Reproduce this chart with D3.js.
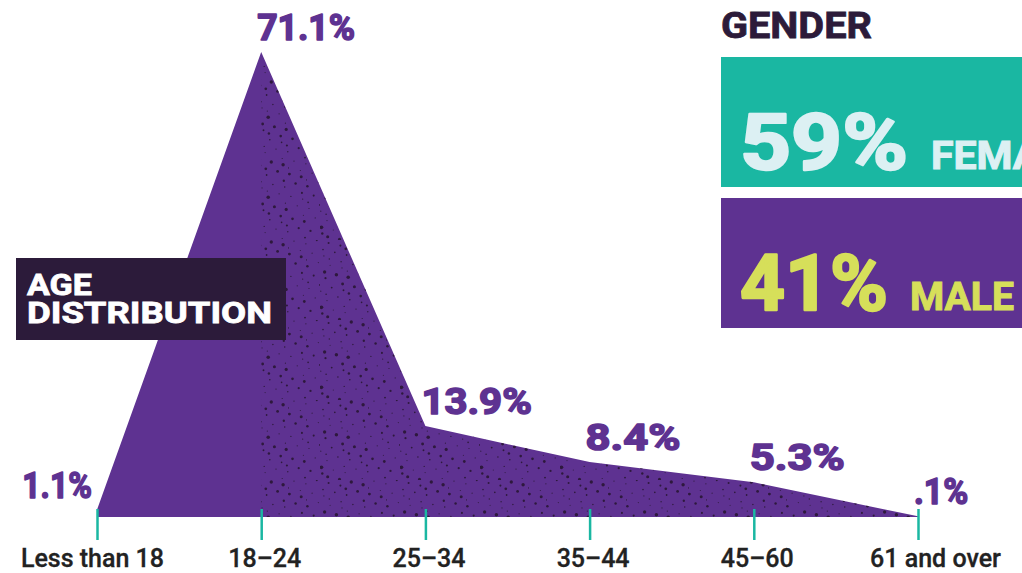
<!DOCTYPE html>
<html>
<head>
<meta charset="utf-8">
<script src="https://cdn.jsdelivr.net/npm/d3@7"></script>
<style>
  html, body { margin: 0; padding: 0; background: #ffffff; }
  svg { display: block; }
</style>
</head>
<body>
<svg id="chart" width="1022" height="573"></svg>
<script>
// ---- data ----
const categories = ["Less than 18", "18–24", "25–34", "35–44", "45–60", "61 and over"];
const values = [1.1, 71.1, 13.9, 8.4, 5.3, 0.1];
const valueLabels = ["1.1%", "71.1%", "13.9%", "8.4%", "5.3%", ".1%"];
const genderLabels = ["FEMALE", "MALE"];
const genderValues = [59, 41];

// ---- style ----
const PURPLE = "#5e3291";
const DARK = "#2c1b3a";
const TEAL = "#1ab7a2";
const FONT = "Roboto, 'Noto Sans', sans-serif";

// wide display-font width model (em per char) used to stretch labels horizontally
const charW = { "1": 0.42, ".": 0.3, "%": 0.8 };
function labelWidth(s, size) {
  let w = 0;
  for (const ch of s) w += (charW[ch] !== undefined ? charW[ch] : 0.76);
  return w * size;
}
// stretch a text element horizontally about its anchor x to a target width
function stretchTo(sel, targetFn) {
  sel.each(function (d, i) {
    const el = d3.select(this);
    const w = this.getComputedTextLength();
    const t = typeof targetFn === "function" ? targetFn(d, i) : targetFn;
    const s = t / w;
    const x0 = +el.attr("x");
    el.attr("transform", `translate(${x0},0) scale(${s},1) translate(${-x0},0)`);
  });
}

const svg = d3.select("#chart");
const W = 1022, H = 573;

const x = d3.scalePoint().domain(categories).range([97, 918]);
const y = d3.scaleLinear().domain([0, 71.1]).range([517, 52]);

const data = categories.map((c, i) => ({ c, v: values[i], label: valueLabels[i] }));

// stipple pattern (deterministic low-discrepancy placement)
const defs = svg.append("defs");
const TILE = 80;
const pat = defs.append("pattern")
  .attr("id", "stipple").attr("patternUnits", "userSpaceOnUse")
  .attr("width", TILE).attr("height", TILE);
const g1 = 1.32471795724474602596;
const a1 = 1 / g1, a2 = 1 / (g1 * g1);
for (let i = 1; i <= 75; i++) {
  const px = ((0.5 + a1 * i) % 1) * TILE;
  const py = ((0.5 + a2 * i) % 1) * TILE;
  const r = 0.55 + (((i * 0.618034) % 1) ** 2) * 1.3;
  pat.append("circle")
    .attr("cx", px.toFixed(1)).attr("cy", py.toFixed(1))
    .attr("r", r.toFixed(2))
    .attr("fill", "#26142f").attr("opacity", 0.85);
}
defs.append("clipPath").attr("id", "rightClip")
  .append("rect").attr("x", x(categories[1])).attr("y", 0).attr("width", W).attr("height", H);

const area = d3.area()
  .x(d => x(d.c))
  .y0(y(0))
  .y1(d => y(d.v))
  .curve(d3.curveLinear);

svg.append("path").datum(data).attr("d", area).attr("fill", PURPLE);
svg.append("path").datum(data).attr("d", area).attr("fill", "url(#stipple)")
  .attr("clip-path", "url(#rightClip)");

// axis
const axisG = svg.append("g").attr("transform", `translate(0,${y(0) - 8})`)
  .call(d3.axisBottom(x).tickSize(31).tickSizeOuter(0).tickPadding(0));
axisG.select(".domain").remove();
axisG.selectAll(".tick line").attr("stroke", TEAL).attr("stroke-width", 2.5);
axisG.selectAll(".tick text")
  .attr("y", 58).attr("dy", 0)
  .attr("fill", "#222222")
  .attr("stroke", "#222222").attr("stroke-width", 0.3)
  .style("font-family", FONT)
  .style("font-weight", 500)
  .style("font-size", "25px")
  .attr("dx", (d, i) => i === 0 ? -5 : (i === categories.length - 1 ? 17 : 3));

// value labels
const VSIZE = 37;
const vLabels = svg.append("g").selectAll("text").data(data).join("text")
  .attr("x", (d, i) => i === 0 ? x(d.c) - 5 : x(d.c) - 4)
  .attr("y", d => y(d.v) - 12)
  .attr("text-anchor", (d, i) => i === 0 ? "end" : "start")
  .attr("fill", PURPLE)
  .attr("stroke", PURPLE).attr("stroke-width", 1.6).attr("stroke-linejoin", "round")
  .style("font-family", FONT)
  .style("font-weight", 700)
  .style("font-size", VSIZE + "px")
  .text(d => d.label);
stretchTo(vLabels, d => labelWidth(d.label, VSIZE) - 2);

// AGE DISTRIBUTION box
const ageG = svg.append("g");
ageG.append("rect").attr("x", 16).attr("y", 258).attr("width", 270).attr("height", 82).attr("fill", DARK);
const ageT = ageG.append("text").attr("fill", "#ffffff")
  .attr("stroke", "#ffffff").attr("stroke-width", 0.8)
  .style("font-family", FONT).style("font-weight", 700).style("font-size", "30px");
ageT.append("tspan").attr("x", 27).attr("y", 295)
  .attr("textLength", 65).attr("lengthAdjust", "spacingAndGlyphs").text("AGE");
ageT.append("tspan").attr("x", 27).attr("y", 323)
  .attr("textLength", 245).attr("lengthAdjust", "spacingAndGlyphs").text("DISTRIBUTION");

// GENDER
const gTitle = svg.append("text").attr("x", 721).attr("y", 38).attr("fill", DARK)
  .attr("stroke", DARK).attr("stroke-width", 0.8)
  .style("font-family", FONT).style("font-weight", 700).style("font-size", "36px")
  .text("GENDER");
stretchTo(gTitle, 151);

const gBoxes = [
  { label: genderLabels[0], v: genderValues[0], top: 57, bg: TEAL, fg: "#dcf0f3", numW: 168, lblX: 931 },
  { label: genderLabels[1], v: genderValues[1], top: 198, bg: PURPLE, fg: "#d6df5a", numW: 148, lblX: 910 }
];
const gg = svg.append("g").selectAll("g").data(gBoxes).join("g");
gg.append("rect").attr("x", 721).attr("y", d => d.top).attr("width", W - 721).attr("height", 130)
  .attr("fill", d => d.bg);
const bigNums = gg.append("text").attr("x", 740).attr("y", d => d.top + 112)
  .attr("fill", d => d.fg)
  .attr("stroke", d => d.fg).attr("stroke-width", 2.4).attr("stroke-linejoin", "round")
  .style("font-family", FONT).style("font-weight", 700).style("font-size", "78px")
  .text(d => d.v + "%");
stretchTo(bigNums, d => d.numW);
const gLbl = gg.append("text").attr("x", d => d.lblX).attr("y", d => d.top + 112)
  .attr("fill", d => d.fg)
  .attr("stroke", d => d.fg).attr("stroke-width", 1)
  .style("font-family", FONT).style("font-weight", 700).style("font-size", "38px")
  .text(d => d.label);
stretchTo(gLbl.filter(d => d.label === "MALE"), 104);
gLbl.filter(d => d.label === "FEMALE").attr("transform", "translate(931,0) scale(1.08,1) translate(-931,0)");
</script>
</body>
</html>
